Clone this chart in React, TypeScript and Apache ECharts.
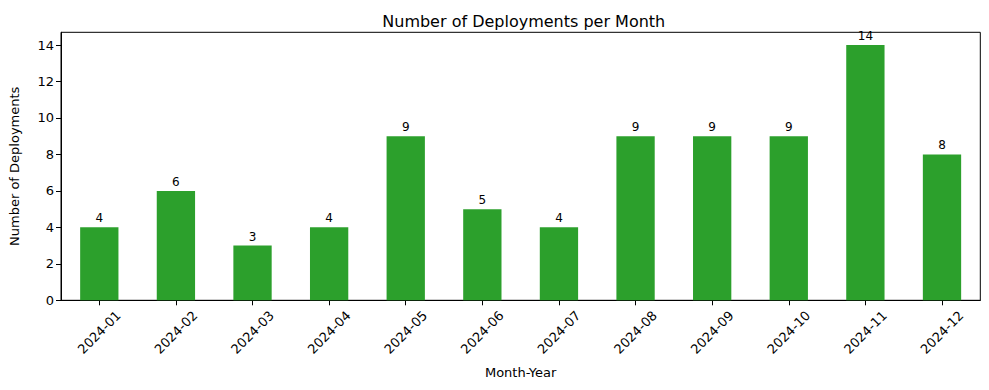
import React, { useEffect, useRef } from "react";
import * as echarts from "echarts";

const months = ["2024-01","2024-02","2024-03","2024-04","2024-05","2024-06","2024-07","2024-08","2024-09","2024-10","2024-11","2024-12"];
const deployments = [4, 6, 3, 4, 9, 5, 4, 9, 9, 9, 14, 8];
const yTicks = [0, 2, 4, 6, 8, 10, 12, 14];

export default function App() {
  const ref = useRef<HTMLDivElement>(null);
  useEffect(() => {
    document.body.style.margin = "0";
    const chart = echarts.init(ref.current!, null, { renderer: "svg" });
    const font = "DejaVu Sans";
    chart.setOption({
      animation: false,
      backgroundColor: "#ffffff",
      textStyle: { fontFamily: font },
      title: {
        text: "Number of Deployments per Month",
        left: 518.75,
        textAlign: "center",
        top: 8,
        textStyle: { fontFamily: font, fontSize: 16, fontWeight: "normal", color: "#000" },
      },
      grid: {
        left: 57.5, right: 8.7, top: 32.3, bottom: 89.7,
        show: true, borderColor: "#000", borderWidth: 1, backgroundColor: "transparent",
      },
      xAxis: {
        type: "category",
        data: months,
        name: "Month-Year",
        nameLocation: "middle",
        nameGap: 66,
        nameTextStyle: { fontFamily: font, fontSize: 13, color: "#000" },
        axisLine: { show: true, lineStyle: { color: "#000", width: 1 } },
        axisTick: { show: true, alignWithLabel: true, length: 5, lineStyle: { color: "#000" } },
        axisLabel: {
          rotate: 45, fontFamily: font, fontSize: 13, color: "#000", margin: 32, interval: 0,
          align: "center", verticalAlign: "middle",
        },
        splitLine: { show: false },
      },
      yAxis: {
        type: "value",
        min: 0,
        max: 14.7,
        interval: 2,
        name: "Number of Deployments",
        nameLocation: "middle",
        nameGap: 40,
        nameTextStyle: { fontFamily: font, fontSize: 13, color: "#000" },
        axisLine: { show: true, lineStyle: { color: "#000", width: 1 } },
        axisTick: { show: true, length: 5, lineStyle: { color: "#000" } },
        axisLabel: {
          fontFamily: font, fontSize: 13, color: "#000", margin: 7, showMaxLabel: false,
          formatter: (v: number) => (yTicks.includes(v) ? String(v) : ""),
        },
        splitLine: { show: false },
      },
      series: [
        {
          type: "bar",
          data: deployments,
          barWidth: "50%",
          itemStyle: { color: "#2ca02c" },
          label: { show: true, position: "top", distance: 3, fontFamily: font, fontSize: 12, color: "#000" },
        },
      ],
    });
    return () => chart.dispose();
  }, []);
  return <div ref={ref} style={{ width: 989, height: 390 }} />;
}
